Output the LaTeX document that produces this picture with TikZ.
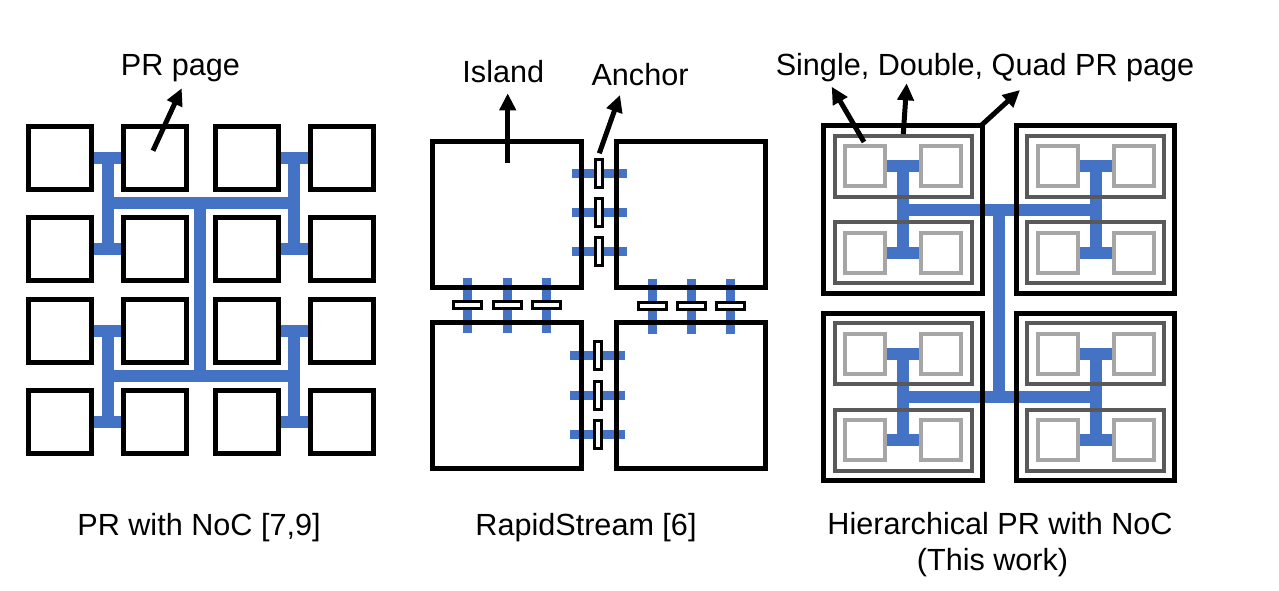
\documentclass[tikz,border=0pt]{standalone}
\usepackage{fontspec}
\setmainfont{Liberation Sans}
\usetikzlibrary{arrows.meta}
\definecolor{noc}{HTML}{4472C4}
\definecolor{dblgray}{HTML}{595959}
\definecolor{sglgray}{HTML}{A6A6A6}
\pgfdeclarelayer{bg}
\pgfsetlayers{bg,main}
\begin{document}
\begin{tikzpicture}[x=1pt,y=-1pt,
  bus/.style={line width=12pt, draw=noc, line cap=rect},
  stub/.style={line width=12pt, draw=noc, line cap=butt},
  bar/.style={line width=9pt, draw=noc, line cap=butt},
  prpage/.style={rectangle, draw=black, line width=5pt, fill=white, inner sep=0pt, minimum width=63pt, minimum height=63pt},
  island/.style={rectangle, draw=black, line width=5pt, inner sep=0pt, minimum width=149pt, minimum height=146pt},
  vanchor/.style={rectangle, draw=black, fill=white, line width=3pt, inner sep=0pt, minimum width=7pt, minimum height=28pt},
  hanchor/.style={rectangle, draw=black, fill=white, line width=3pt, inner sep=0pt, minimum width=28pt, minimum height=7pt},
  quadpage/.style={rectangle, draw=black, line width=5pt, inner sep=0pt, minimum width=158.5pt, minimum height=167.5pt},
  dblpage/.style={rectangle, draw=dblgray, line width=4pt, inner sep=0pt, minimum width=137pt, minimum height=61pt},
  sglpage/.style={rectangle, draw=sglgray, line width=4pt, fill=white, inner sep=0pt, minimum width=40pt, minimum height=40pt},
  lbl/.style={font=\fontsize{30.6}{36}\selectfont, inner sep=0pt, anchor=base},
  arr/.style={line width=5pt, -{Triangle[length=17pt,width=16pt]}}
]
\useasboundingbox (0,0) rectangle (1279,590);

% ---------------- Left panel: PR with NoC ----------------
\foreach \c/\x in {1/59.5,2/154.5,3/247,4/342}{
  \foreach \r/\y in {1/158,2/248.5,3/331,4/422}{
    \node[prpage] (p\r\c) at (\x,\y) {};
  }
}
\coordinate (LA1) at (107.5,158);  \coordinate (LA2) at (107.5,248.5);
\coordinate (LB1) at (294,158);    \coordinate (LB2) at (294,248.5);
\coordinate (LC1) at (107.5,331);  \coordinate (LC2) at (107.5,422);
\coordinate (LD1) at (294,331);    \coordinate (LD2) at (294,422);
\coordinate (Lh1) at (107.5,203);  \coordinate (Lh2) at (294,203);
\coordinate (Lh3) at (107.5,375.5);\coordinate (Lh4) at (294,375.5);
\coordinate (Lt1) at (200,203);    \coordinate (Lt2) at (200,375.5);
\begin{pgfonlayer}{bg}
  \draw[stub] (p11) -- (p12);  \draw[stub] (p21) -- (p22);
  \draw[stub] (p13) -- (p14);  \draw[stub] (p23) -- (p24);
  \draw[stub] (p31) -- (p32);  \draw[stub] (p41) -- (p42);
  \draw[stub] (p33) -- (p34);  \draw[stub] (p43) -- (p44);
  \draw[bus] (LA1) -- (LA2);  \draw[bus] (LB1) -- (LB2);
  \draw[bus] (LC1) -- (LC2);  \draw[bus] (LD1) -- (LD2);
  \draw[bus] (Lh1) -- (Lh2);  \draw[bus] (Lh3) -- (Lh4);
  \draw[bus] (Lt1) -- (Lt2);
\end{pgfonlayer}
\node[lbl] (prlabel) at (180.5,75) {PR page};
\coordinate (prtail) at (153,150.7);
\coordinate (prtip) at (181.7,88.3);
\draw[arr] (prtail) -- (prtip);
\node[lbl] (leftcap) at (199,535.7) {PR with NoC [7,9]};

% ---------------- Middle panel: RapidStream ----------------
\node[island] (iTL) at (506.5,214.3) {};
\node[island] (iTR) at (690.7,214.3) {};
\node[island] (iBL) at (506.5,395.5) {};
\node[island] (iBR) at (690.7,395.5) {};
\foreach \i/\x/\y in {1/599/173.5,2/599/212.5,3/599/251.5,4/597.7/355.5,5/597.7/395,6/597.7/434}{
  \node[vanchor] (va\i) at (\x,\y) {};
  \begin{pgfonlayer}{bg}
    \draw[bar] ([xshift=-27.5pt]va\i.center) -- ([xshift=27.5pt]va\i.center);
  \end{pgfonlayer}
}
\foreach \i/\x/\y in {1/467.8/305,2/507.2/305,3/546.3/305,4/652/306,5/691.3/306,6/730.7/306}{
  \node[hanchor] (ha\i) at (\x,\y) {};
  \begin{pgfonlayer}{bg}
    \draw[bar] ([yshift=27.5pt]ha\i.center) -- ([yshift=-27.5pt]ha\i.center);
  \end{pgfonlayer}
}
\node[lbl] (islandlabel) at (503.3,82.7) {Island};
\node[lbl] (anchorlabel) at (640,85.7) {Anchor};
\coordinate (istail) at (507.7,162.7);
\coordinate (istip) at (507.7,93.3);
\coordinate (antail) at (599.3,153.3);
\coordinate (antip) at (620,95);
\draw[arr] (istail) -- (istip);
\draw[arr] (antail) -- (antip);
\node[lbl] (midcap) at (586,535.7) {RapidStream [6]};

% ---------------- Right panel: Hierarchical PR with NoC ----------------
\foreach \q/\qx/\qy in {1/903/209.5,2/1095.7/209.5,3/903/397,4/1095.7/397}{
  \node[quadpage] (q\q) at (\qx,\qy) {};
  \node[dblpage] (q\q u) at (\qx,\qy-43.4) {};
  \node[dblpage] (q\q l) at (\qx,\qy+43) {};
  \node[sglpage] (q\q u-a) at (\qx-37.8,\qy-43.4) {};
  \node[sglpage] (q\q u-b) at (\qx+38,\qy-43.4) {};
  \node[sglpage] (q\q l-a) at (\qx-37.8,\qy+43) {};
  \node[sglpage] (q\q l-b) at (\qx+38,\qy+43) {};
  \coordinate (q\q vt) at (\qx,\qy-43.4);
  \coordinate (q\q vb) at (\qx,\qy+43);
  \begin{pgfonlayer}{bg}
    \draw[stub] (q\q u-a) -- (q\q u-b);
    \draw[stub] (q\q l-a) -- (q\q l-b);
    \draw[bus] (q\q vt) -- (q\q vb);
  \end{pgfonlayer}
}
\coordinate (Rh1) at (903,210);    \coordinate (Rh2) at (1095.7,210);
\coordinate (Rh3) at (903,396.5);  \coordinate (Rh4) at (1095.7,396.5);
\coordinate (Rt1) at (998.5,210);  \coordinate (Rt2) at (998.5,396.5);
\begin{pgfonlayer}{bg}
  \draw[bus] (Rh1) -- (Rh2);
  \draw[bus] (Rh3) -- (Rh4);
  \draw[bus] (Rt1) -- (Rt2);
\end{pgfonlayer}
\node[lbl] (hierlabel) at (985,75) {Single, Double, Quad PR page};
\coordinate (sgtail) at (864,142);    \coordinate (sgtip) at (831.7,86.7);
\coordinate (dbtail) at (903.3,134);  \coordinate (dbtip) at (906.7,83.3);
\coordinate (qdtail) at (981.7,125);  \coordinate (qdtip) at (1020,90);
\draw[arr] (sgtail) -- (sgtip);
\draw[arr] (dbtail) -- (dbtip);
\draw[arr] (qdtail) -- (qdtip);
\node[lbl] (rightcap1) at (1000,534.3) {Hierarchical PR with NoC};
\node[lbl] (rightcap2) at (992.5,570) {(This work)};
\end{tikzpicture}
\end{document}
